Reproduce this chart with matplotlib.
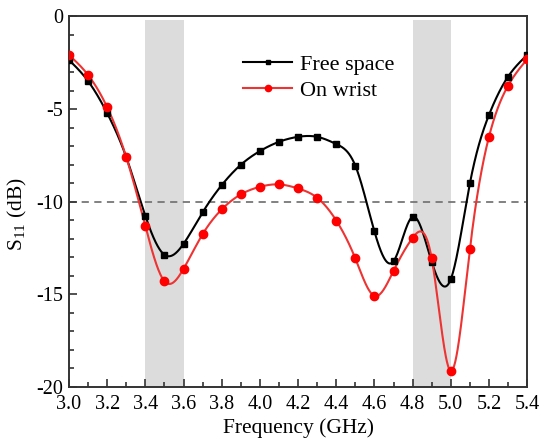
import numpy as np
import matplotlib
matplotlib.use("Agg")
import matplotlib.pyplot as plt
from matplotlib.ticker import MultipleLocator

freq = [3.0, 3.1, 3.2, 3.3, 3.4, 3.5, 3.6, 3.7, 3.8, 3.9, 4.0, 4.1, 4.2,
        4.3, 4.4, 4.5, 4.6, 4.7, 4.8, 4.9, 5.0, 5.1, 5.2, 5.3, 5.4]
free_space = [-2.35, -3.49, -5.22, -7.6, -10.77, -12.87, -12.28, -10.58, -9.11,
              -8.01, -7.27, -6.77, -6.5, -6.5, -6.89, -8.06, -11.61, -13.22,
              -10.82, -13.25, -14.19, -9.02, -5.32, -3.25, -2.08]
on_wrist = [-2.08, -3.16, -4.9, -7.6, -11.32, -14.3, -13.63, -11.76, -10.42,
            -9.61, -9.2, -9.07, -9.29, -9.79, -11.02, -13.07, -15.09, -13.74,
            -11.96, -13.07, -19.15, -12.57, -6.5, -3.74, -2.31]
bands = [(3.4, 3.6), (4.8, 5.0)]
threshold = -10
xtick_vals = [3.0, 3.2, 3.4, 3.6, 3.8, 4.0, 4.2, 4.4, 4.6, 4.8, 5.0, 5.2, 5.4]
xtick_labels = ['3.0', '3.2', '3.4', '3.6', '3.8', '4.0', '4.2', '4.4', '4.6',
                '4.8', '5.0', '5.2', '5.4']
ytick_vals = [0, -5, -10, -15, -20]
ytick_labels = ['0', '-5', '-10', '-15', '-20']


def natural_spline(x, y, n=1200):
    x = np.asarray(x, float)
    y = np.asarray(y, float)
    m = len(x)
    h = np.diff(x)
    A = np.zeros((m, m))
    b = np.zeros(m)
    A[0, 0] = 1
    A[-1, -1] = 1
    for i in range(1, m - 1):
        A[i, i - 1] = h[i - 1]
        A[i, i] = 2 * (h[i - 1] + h[i])
        A[i, i + 1] = h[i]
        b[i] = 3 * ((y[i + 1] - y[i]) / h[i] - (y[i] - y[i - 1]) / h[i - 1])
    c = np.linalg.solve(A, b)
    bb = (y[1:] - y[:-1]) / h - h * (2 * c[:-1] + c[1:]) / 3
    d = (c[1:] - c[:-1]) / (3 * h)
    xs = np.linspace(x[0], x[-1], n)
    idx = np.clip(np.searchsorted(x, xs) - 1, 0, m - 2)
    t = xs - x[idx]
    ys = y[idx] + bb[idx] * t + c[idx] * t ** 2 + d[idx] * t ** 3
    return xs, ys


plt.rcParams['font.family'] = ['Liberation Serif', 'DejaVu Serif']
plt.rcParams['mathtext.fontset'] = 'custom'
plt.rcParams['mathtext.rm'] = 'Liberation Serif'

fig = plt.figure(figsize=(5.39, 4.41), dpi=100)
ax = fig.add_axes([0.128, 0.123, 0.85, 0.8396])

for lo, hi in bands:
    ax.fill_between([lo, hi], -20, -0.2, color='#dcdcdc', lw=0, zorder=0)

ax.axhline(threshold, color='#777777', ls=(0, (4, 3)), lw=1.3, zorder=1)

xs, ys = natural_spline(freq, free_space)
ax.plot(xs, ys, color='black', lw=1.5, zorder=3)
ax.plot(freq, free_space, 's', color='black', ms=5, zorder=4)
xs, ys = natural_spline(freq, on_wrist)
ax.plot(xs, ys, color='#ee3333', lw=1.5, zorder=3)
ax.plot(freq, on_wrist, 'o', color='red', ms=6, zorder=4)

h1, = ax.plot([], [], '-s', color='black', lw=1.5, ms=3.5, label='Free space')
h2, = ax.plot([], [], '-o', color='#ee3333', mfc='red', mec='red', lw=1.5, ms=4.5, label='On wrist')
ax.legend(handles=[h1, h2], loc='upper left', bbox_to_anchor=(0.38, 0.898),
          frameon=False, fontsize=16, handlelength=2.2, handletextpad=0.36,
          labelspacing=0.25, borderaxespad=0, borderpad=0)

ax.set_xlim(3.0, 5.4)
ax.set_ylim(-20, 0)
ax.set_xticks(xtick_vals)
ax.set_xticklabels(xtick_labels)
ax.xaxis.set_minor_locator(MultipleLocator(0.1))
ax.set_yticks(ytick_vals)
ax.set_yticklabels(ytick_labels)
ax.yaxis.set_minor_locator(MultipleLocator(1))
ax.tick_params(which='both', direction='in', top=False, right=False, labelsize=14.5,
               color='#333333', width=1.2)
ax.tick_params(which='major', length=6)
ax.tick_params(which='minor', length=3.5)
ax.tick_params(axis='x', which='major', pad=6)
ax.tick_params(axis='y', which='major', pad=4)
for s in ax.spines.values():
    s.set_color('#333333')
    s.set_linewidth(1.4)

ax.set_xlabel('Frequency (GHz)', fontsize=15.5, labelpad=3)
ax.set_ylabel('S$_{11}$ (dB)', fontsize=15.5)
ax.yaxis.set_label_coords(-0.087, 0.465)

fig.savefig('out.png', dpi=100)
